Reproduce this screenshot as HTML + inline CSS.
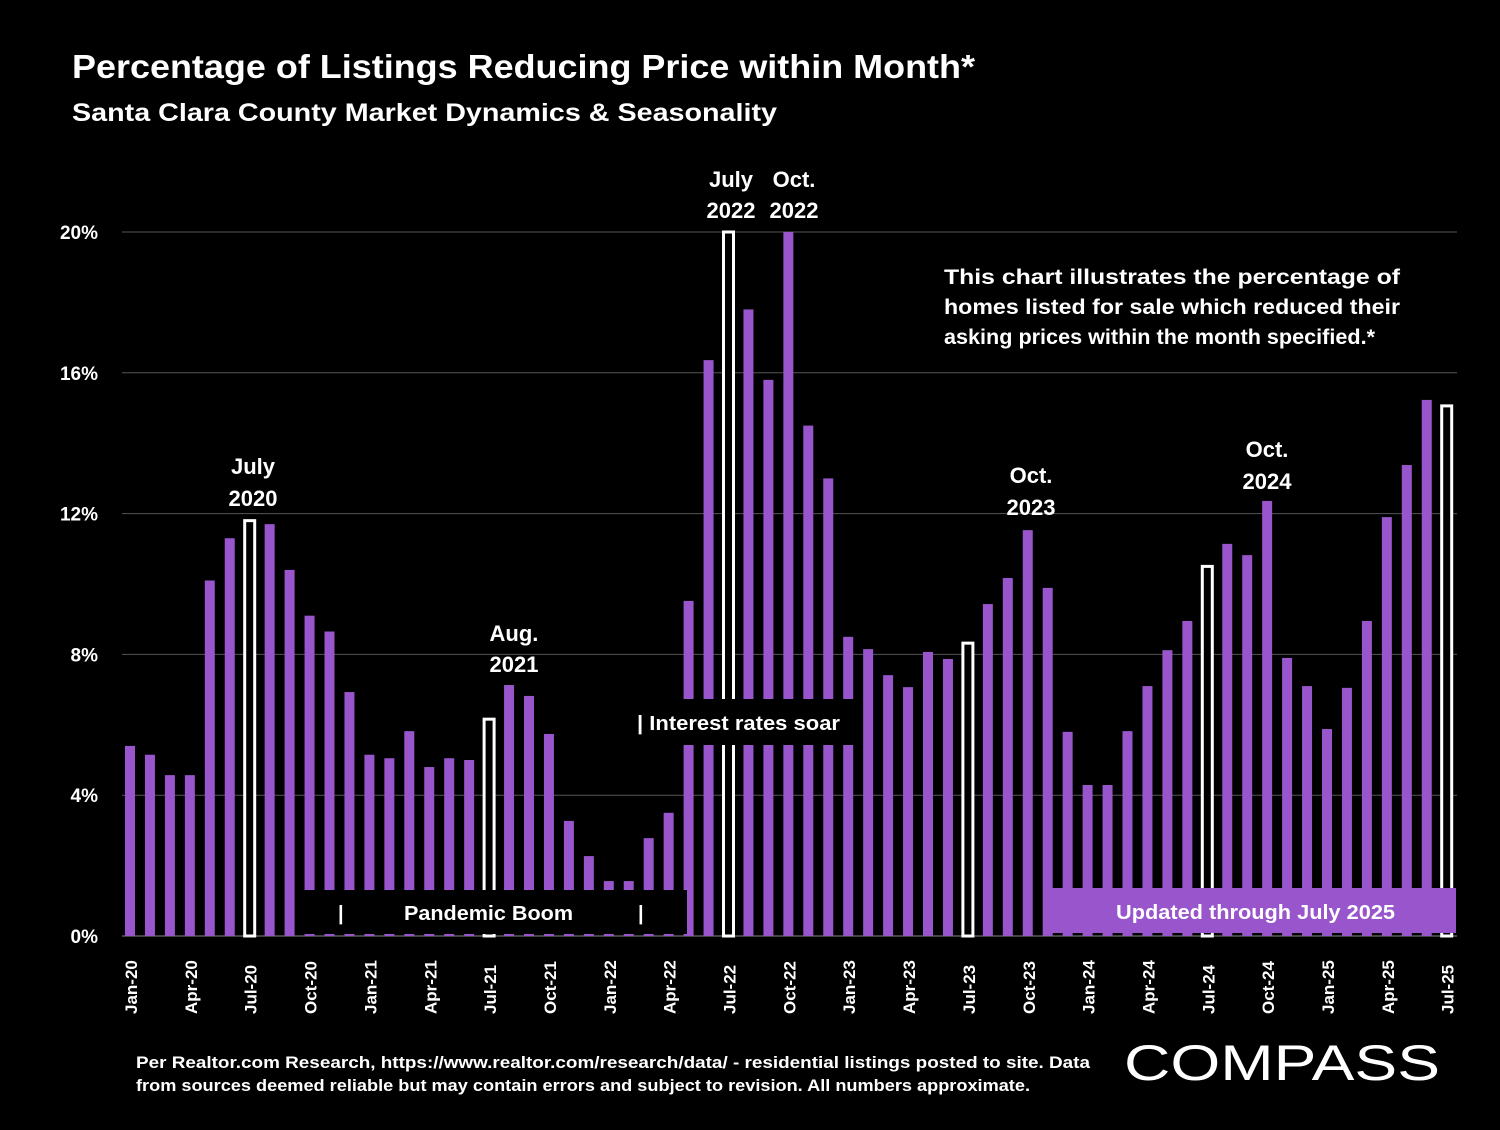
<!DOCTYPE html>
<html><head><meta charset="utf-8"><style>
body{margin:0;background:#000;width:1500px;height:1125px;overflow:hidden;font-family:"Liberation Sans",sans-serif}
svg text{font-family:"Liberation Sans",sans-serif;fill:#fff;font-weight:bold}
</style></head><body>
<svg id="c" width="1500" height="1125">
<text x="72" y="78" font-size="33" textLength="903" lengthAdjust="spacingAndGlyphs">Percentage of Listings Reducing Price within Month*</text>
<text x="72" y="121" font-size="25" textLength="705" lengthAdjust="spacingAndGlyphs">Santa Clara County Market Dynamics &amp; Seasonality</text>
<g id="grid"></g><g id="bars"></g><g id="xl"></g>
<rect x="300" y="890" width="387" height="44" fill="#000"/>
<text x="338" y="920" font-size="20">|</text>
<text x="404" y="920" font-size="20" textLength="169" lengthAdjust="spacingAndGlyphs">Pandemic Boom</text>
<text x="638" y="920" font-size="20">|</text>
<rect x="630" y="699" width="228" height="46" fill="#000"/>
<text x="637" y="730" font-size="20" textLength="203" lengthAdjust="spacingAndGlyphs">| Interest rates soar</text>
<rect x="1043" y="888" width="413" height="45" fill="#9955cc"/>
<text x="1116" y="919" font-size="20" textLength="279" lengthAdjust="spacingAndGlyphs">Updated through July 2025</text>
<g font-size="21">
<text x="944" y="284" textLength="456" lengthAdjust="spacingAndGlyphs">This chart illustrates the percentage of</text>
<text x="944" y="314" textLength="456" lengthAdjust="spacingAndGlyphs">homes listed for sale which reduced their</text>
<text x="944" y="344" textLength="431" lengthAdjust="spacingAndGlyphs">asking prices within the month specified.*</text>
</g>
<g font-size="22" text-anchor="middle">
<text x="253" y="474">July</text><text x="253" y="506">2020</text>
<text x="514" y="641">Aug.</text><text x="514" y="672">2021</text>
<text x="731" y="187">July</text><text x="731" y="218">2022</text>
<text x="794" y="187">Oct.</text><text x="794" y="218">2022</text>
<text x="1031" y="483">Oct.</text><text x="1031" y="515">2023</text>
<text x="1267" y="457">Oct.</text><text x="1267" y="489">2024</text>
</g>
<text x="136" y="1068" font-size="16.5" textLength="954" lengthAdjust="spacingAndGlyphs">Per Realtor.com Research, https://www.realtor.com/research/data/ - residential listings posted to site.  Data</text>
<text x="136" y="1091" font-size="16.5" textLength="894" lengthAdjust="spacingAndGlyphs">from sources deemed reliable but may contain errors and subject to revision. All numbers approximate.</text>
<text x="1124" y="1080" font-size="50" textLength="316" lengthAdjust="spacingAndGlyphs" style="font-weight:normal">COMPASS</text>
</svg>
<script>
const months=["Jan","Feb","Mar","Apr","May","Jun","Jul","Aug","Sep","Oct","Nov","Dec"];
const values=[5.4,5.15,4.57,4.57,10.1,11.3,11.8,11.7,10.4,9.1,8.65,6.93,
5.15,5.05,5.82,4.8,5.05,5.0,6.16,7.13,6.82,5.74,3.27,2.27,
1.56,1.56,2.78,3.5,9.52,16.36,20,17.8,15.8,20,14.5,13.0,
8.5,8.15,7.41,7.07,8.07,7.87,8.32,9.43,10.17,11.53,9.89,5.8,
4.29,4.29,5.82,7.1,8.12,8.95,10.5,11.14,10.82,12.36,7.9,7.1,
5.88,7.05,8.95,11.9,13.38,15.23,15.06];
const yTicks=[0,4,8,12,16,20];
const NS="http://www.w3.org/2000/svg";
const y=v=>936-v*35.2;
const x=i=>130+i*19.95;
const g=document.getElementById('grid'),b=document.getElementById('bars'),xl=document.getElementById('xl');
function mk(t,a,p){const e=document.createElementNS(NS,t);for(const k in a)e.setAttribute(k,a[k]);p.appendChild(e);return e;}
yTicks.forEach(t=>{
 const l=mk('line',{x1:122,x2:1457,y1:y(t),y2:y(t),stroke:t===0?'#888':'#555','stroke-width':1},g);
 
 
 const tx=mk('text',{x:98,y:y(t)+7,'font-size':19,'text-anchor':'end'},g);tx.textContent=t+'%';
 
 
});
values.forEach((v,i)=>{
 const m=i%12;const yr=20+Math.floor(i/12);
 const white=m===6;
 const r=mk('rect',{x:x(i)-5,y:y(v),width:10,height:936-y(v),fill:white?'#000':'#9955cc',stroke:white?'#fff':'none','stroke-width':white?3:0},b);
 
 
 if(m%3===0){
  const t=mk('text',{transform:`translate(${x(i)+7},1014) rotate(-90)`,'font-size':17},xl);
  t.textContent=months[m]+'-'+yr;
  
  
 }
});
</script>
</body></html>
